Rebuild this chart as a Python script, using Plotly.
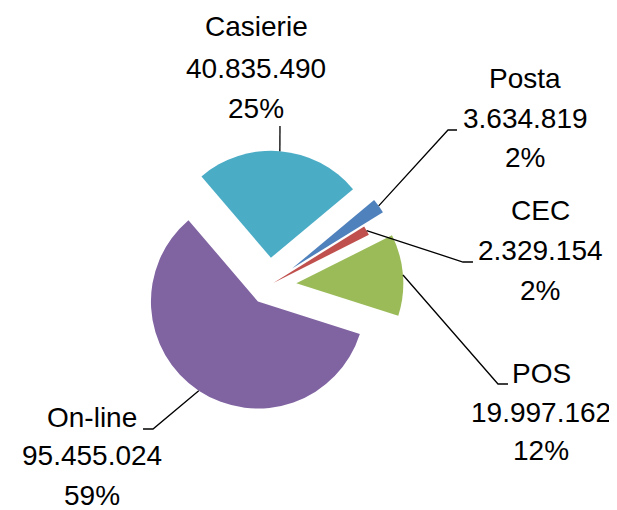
import math
import plotly.graph_objects as go

# data
labels = ["Casierie", "Posta", "CEC", "POS", "On-line"]
values = [40835490, 3634819, 2329154, 19997162, 95455024]
value_text = ["40.835.490", "3.634.819", "2.329.154", "19.997.162", "95.455.024"]
pct_text = ["25%", "2%", "2%", "12%", "59%"]
colors = ["#4BACC6", "#4F81BD", "#C0504D", "#9BBB59", "#8064A2"]
pulls = [0.26, 0.27, 0.05, 0.26, 0.18]

# page body has an 8px margin, so the figure is a bit smaller and shifted
OFF = 8
W, H = 617 - OFF, 510 - OFF
rotation = -40.5
cx, cy = 268.6 - OFF, 285.5 - OFF   # pie centre, px
r = 107.0                            # pie radius, px
box = r * (1 + max(pulls))           # half size of the pie domain

# label line centres (px, window coords) and leader line elbow / end points
label_x = [256, 525, 540, 541, 92]
label_y = [(27, 68, 108), (78, 118, 158), (210, 250, 290), (373, 412, 450), (417, 455, 495)]
leader_pts = [[(280, 126)],
              [(448, 130), (457, 130)],
              [(463, 262), (473, 262)],
              [(498, 384), (508, 384)],
              [(153, 429), (143, 429)]]


def px(x, y):
    return x / W, 1 - y / H


fig = go.Figure(go.Pie(
    labels=labels, values=values, sort=False, direction="clockwise",
    rotation=rotation, pull=pulls, textinfo="none", hoverinfo="label+value+percent",
    marker=dict(colors=colors, line=dict(width=0)),
    domain=dict(x=[(cx - box) / W, (cx + box) / W],
                y=[(H - cy - box) / H, (H - cy + box) / H]),
    showlegend=False,
))

total = sum(values)
ang = rotation
shapes, annotations = [], []
font = dict(family="Liberation Sans, Arial", size=28, color="black")
for i, v in enumerate(values):
    mid = math.radians(ang + 360 * v / total / 2)
    ang += 360 * v / total
    d = r * (1 + pulls[i])
    ax, ay = cx + d * math.sin(mid), cy - d * math.cos(mid)
    pts = [px(ax, ay)] + [px(x - OFF, y - OFF) for x, y in leader_pts[i]]
    path = "M " + " L ".join(f"{x:.4f},{y:.4f}" for x, y in pts)
    shapes.append(dict(type="path", path=path, xref="paper", yref="paper",
                       line=dict(color="black", width=1.3)))
    for txt, ly in zip([labels[i], value_text[i], pct_text[i]], label_y[i]):
        x, y = px(label_x[i] - OFF, ly - OFF)
        annotations.append(dict(
            x=x, y=y, xref="paper", yref="paper", xanchor="center", yanchor="middle",
            text=txt, showarrow=False, font=font))

fig.update_layout(width=W, height=H, margin=dict(l=0, r=0, t=0, b=0),
                  paper_bgcolor="white", plot_bgcolor="white",
                  shapes=shapes, annotations=annotations)

fig.write_html("out.html")
